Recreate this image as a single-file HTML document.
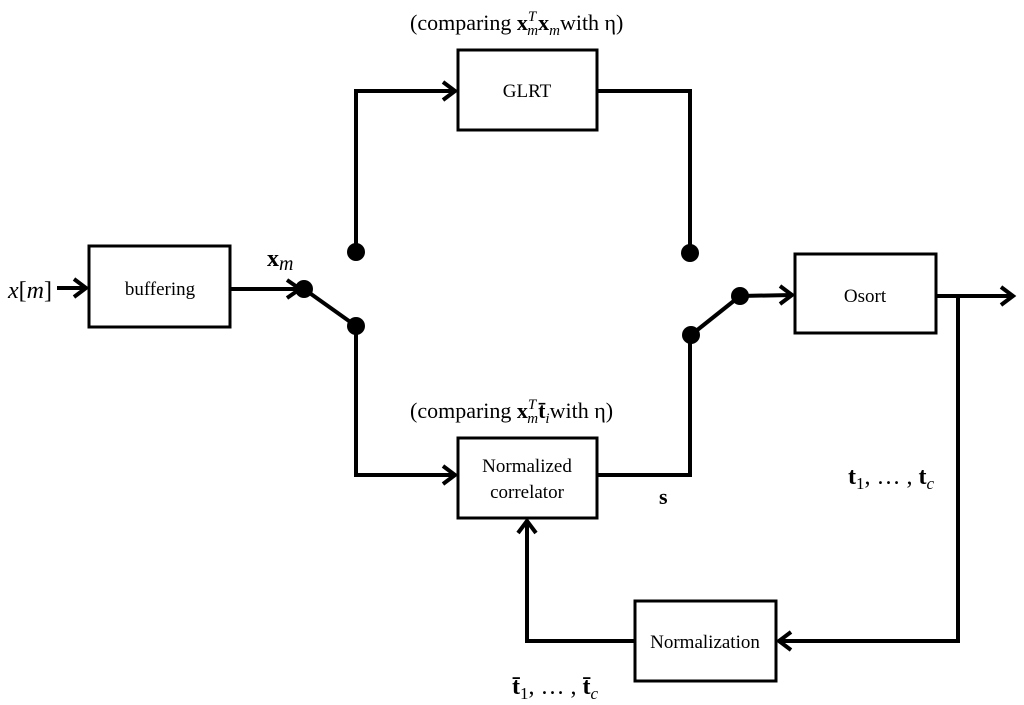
<!DOCTYPE html>
<html><head><meta charset="utf-8"><style>
html,body{margin:0;padding:0;background:#fff}
svg{display:block}
text{font-family:"Liberation Serif",serif;fill:#000}
</style></head><body>
<svg width="1024" height="705" viewBox="0 0 1024 705" xmlns="http://www.w3.org/2000/svg">
<g fill="none" stroke="#000" stroke-width="4" stroke-linejoin="miter">
<!-- boxes -->
<rect x="89" y="246" width="141" height="81" stroke-width="3"/>
<rect x="458" y="50" width="139" height="80" stroke-width="3"/>
<rect x="458" y="438" width="139" height="80" stroke-width="3"/>
<rect x="795" y="254" width="141" height="79" stroke-width="3"/>
<rect x="635" y="601" width="141" height="80" stroke-width="3"/>
<!-- lines -->
<line x1="57" y1="288" x2="86" y2="288"/>
<polyline points="74,279 86,288 74,297"/>
<line x1="230" y1="289" x2="300" y2="289"/>
<polyline points="287,280 300,289 287,298"/>
<line x1="304" y1="289" x2="356" y2="326"/>
<polyline points="356,252 356,91 455,91"/>
<polyline points="443,82 455,91 443,100"/>
<polyline points="356,326 356,475 455,475"/>
<polyline points="443,466 455,475 443,484"/>
<polyline points="597,91 690,91 690,253"/>
<polyline points="597,475 690,475 690,335"/>
<line x1="691" y1="335" x2="740" y2="296"/>
<line x1="740" y1="296" x2="792" y2="295"/>
<polyline points="780,286 792,295 780,304"/>
<line x1="936" y1="296" x2="1013" y2="296"/>
<polyline points="1001,287 1013,296 1001,305"/>
<polyline points="958,296 958,641 779,641"/>
<polyline points="791,632 779,641 791,650"/>
<polyline points="635,641 527,641 527,521"/>
<polyline points="518,533 527,521 536,533"/>
</g>
<g fill="#000">
<circle cx="304" cy="289" r="9"/>
<circle cx="356" cy="326" r="9"/>
<circle cx="356" cy="252" r="9"/>
<circle cx="690" cy="253" r="9"/>
<circle cx="691" cy="335" r="9"/>
<circle cx="740" cy="296" r="9"/>
</g>
<g font-size="19" text-anchor="middle">
<text x="160" y="295">buffering</text>
<text x="527" y="97">GLRT</text>
<text x="527" y="472">Normalized</text>
<text x="527" y="498">correlator</text>
<text x="865" y="302">Osort</text>
<text x="705" y="648">Normalization</text>
</g>
<text x="8" y="298" font-size="24"><tspan font-style="italic">x</tspan>[<tspan font-style="italic">m</tspan>]</text>
<text x="267" y="266" font-size="24" font-weight="bold">x<tspan font-weight="normal" font-style="italic" font-size="20" dy="4">m</tspan></text>
<text x="410" y="30" font-size="22">(comparing <tspan font-weight="bold">x</tspan><tspan font-style="italic" font-size="15" dy="-9">T</tspan><tspan font-style="italic" font-size="15" dx="-9" dy="14">m</tspan><tspan font-weight="bold" dy="-5">x</tspan><tspan font-style="italic" font-size="15" dy="5">m</tspan><tspan dy="-5">with η)</tspan></text>
<text x="410" y="418" font-size="22">(comparing <tspan font-weight="bold">x</tspan><tspan font-style="italic" font-size="15" dy="-9">T</tspan><tspan font-style="italic" font-size="15" dx="-9" dy="14">m</tspan><tspan font-weight="bold" dy="-5">t̄</tspan><tspan font-style="italic" font-size="15" dy="5">i</tspan><tspan dy="-5">with η)</tspan></text>
<text x="659" y="504" font-size="22" font-weight="bold">s</text>
<text x="848" y="484" font-size="24"><tspan font-weight="bold">t</tspan><tspan font-size="17" dy="5">1</tspan><tspan dy="-5">, … , </tspan><tspan font-weight="bold">t</tspan><tspan font-style="italic" font-size="17" dy="5">c</tspan></text>
<text x="512" y="694" font-size="24"><tspan font-weight="bold">t̄</tspan><tspan font-size="17" dy="5">1</tspan><tspan dy="-5">, … , </tspan><tspan font-weight="bold">t̄</tspan><tspan font-style="italic" font-size="17" dy="5">c</tspan></text>
</svg>
</body></html>
